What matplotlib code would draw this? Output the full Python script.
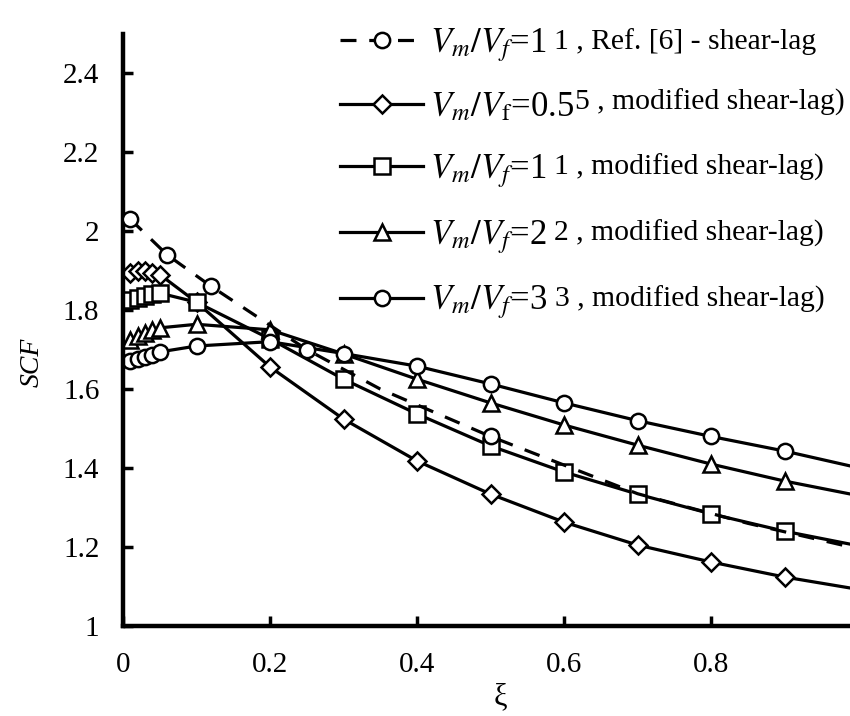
import numpy as np
import matplotlib
matplotlib.use("Agg")
import matplotlib.pyplot as plt

plt.rcParams['font.family'] = ['Liberation Serif', 'DejaVu Serif']
plt.rcParams['mathtext.fontset'] = 'stix'

# reference curve (Ref. [6], dashed), markers only on the first points
ref_x = [0.01, 0.06, 0.12, 0.25, 0.35, 0.5, 0.7, 0.85, 0.99]
ref_y = [2.03, 1.94, 1.86, 1.70, 1.60, 1.48, 1.335, 1.26, 1.20]

# modified shear-lag curves
xi = [0.01, 0.02, 0.03, 0.04, 0.05, 0.1, 0.2, 0.3, 0.4, 0.5, 0.6, 0.7, 0.8, 0.9, 0.99]
scf_05 = [1.895, 1.90, 1.90, 1.895, 1.89, 1.82, 1.656, 1.524, 1.418, 1.334, 1.263, 1.205, 1.162, 1.124, 1.096]
scf_1 = [1.825, 1.83, 1.835, 1.84, 1.843, 1.82, 1.727, 1.625, 1.537, 1.456, 1.39, 1.334, 1.284, 1.24, 1.207]
scf_2 = [1.725, 1.735, 1.742, 1.75, 1.755, 1.764, 1.75, 1.689, 1.625, 1.565, 1.509, 1.458, 1.41, 1.367, 1.334]
scf_3 = [1.67, 1.675, 1.68, 1.686, 1.694, 1.709, 1.72, 1.69, 1.658, 1.613, 1.565, 1.52, 1.48, 1.443, 1.405]

big_labels = [r"$V_m/V_f$=1", r"$V_m/V_\mathrm{f}$=0.5", r"$V_m/V_f$=1",
              r"$V_m/V_f$=2", r"$V_m/V_f$=3"]
tail_labels = ["1 , Ref. [6] - shear-lag", "5 , modified shear-lag)",
               "1 , modified shear-lag)", "2 , modified shear-lag)",
               "3 , modified shear-lag)"]
tail_gap = [7, 0, 7, 7, 7]   # px between big label and its tail

fig = plt.figure(figsize=(8.5, 7.16), dpi=100)
ax = fig.add_axes([0.1447, 0.1257, 1 - 0.1447, 0.953 - 0.1257])

lw = 2.3
mk = dict(markersize=11, markerfacecolor='white', markeredgecolor='black', markeredgewidth=1.8)

h0, = ax.plot(ref_x, ref_y, color='black', lw=lw, dashes=[5, 4], marker='o',
              markevery=[0, 1, 2, 3, 5], zorder=3, **mk)

n = len(xi) - 1
h1, = ax.plot(xi, scf_05, color='black', lw=lw, marker='D', markevery=list(range(n)),
              **dict(mk, markersize=9))
h2, = ax.plot(xi, scf_1, color='black', lw=lw, marker='s', markevery=list(range(n)), **mk)
h3, = ax.plot(xi, scf_2, color='black', lw=lw, marker='^', markevery=list(range(n)), **mk)
h4, = ax.plot(xi, scf_3, color='black', lw=lw, marker='o', markevery=list(range(n)), **mk)

ax.set_xlim(0, 0.989)
ax.set_ylim(1, 2.5)
ax.set_xticks([0, 0.2, 0.4, 0.6, 0.8])
ax.set_xticklabels(["0", "0.2", "0.4", "0.6", "0.8"])
ax.set_yticks([1, 1.2, 1.4, 1.6, 1.8, 2, 2.2, 2.4])
ax.set_yticklabels(["1", "1.2", "1.4", "1.6", "1.8", "2", "2.2", "2.4"])

for s in ['top', 'right']:
    ax.spines[s].set_visible(False)
for s in ['left', 'bottom']:
    ax.spines[s].set_linewidth(3.2)
ax.tick_params(direction='in', length=7, width=2.5, labelsize=21)
ax.tick_params(axis='x', pad=19)
ax.tick_params(axis='y', pad=17)

ax.set_xlabel(r"ξ", fontsize=22)
ax.xaxis.set_label_coords(0.519, -0.095)
ax.set_ylabel("SCF", fontsize=20, fontstyle='italic')
ax.yaxis.set_label_coords(-0.108, 0.445)

handles = [h0, h1, h2, h3, h4]
leg = ax.legend(handles, big_labels, loc='upper left', bbox_to_anchor=(0.40, 0.964),
                bbox_transform=fig.transFigure, frameon=False, fontsize=25,
                handlelength=2.4, handletextpad=0.2, labelspacing=0.8,
                borderpad=0, borderaxespad=0)

# second part of each legend entry, set in a smaller font after the big label
fig.canvas.draw()
W, H = fig.canvas.get_width_height()
for t, tail, gap in zip(leg.get_texts(), tail_labels, tail_gap):
    bb = t.get_window_extent()
    fig.text((bb.x1 + gap) / W, (bb.y0 + 15) / H, tail, fontsize=21.3,
             ha='left', va='baseline')

fig.savefig("out.png", dpi=100)
